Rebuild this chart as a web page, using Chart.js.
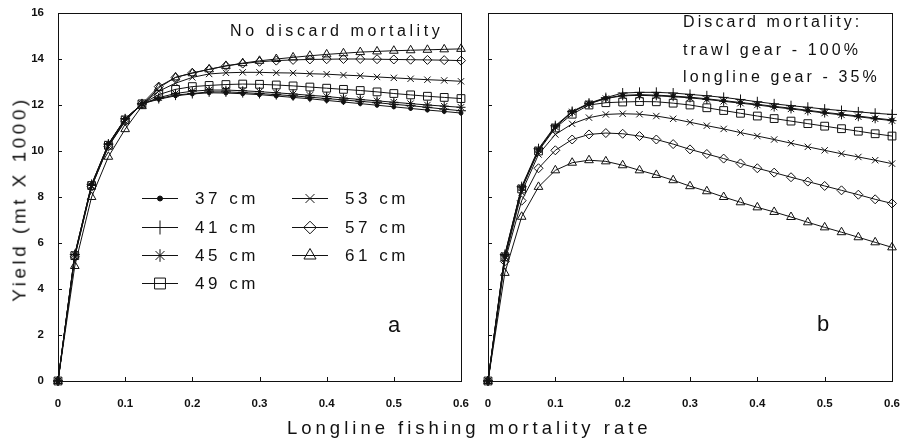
<!DOCTYPE html>
<html>
<head>
<meta charset="utf-8">
<script src="https://cdn.jsdelivr.net/npm/chart.js@4/dist/chart.umd.min.js"></script>
<style>
  body { margin: 0; background: #fff; width: 905px; height: 439px; position: relative; overflow: hidden;
         font-family: "Liberation Sans", Arial, sans-serif; color: #111; }
  .box { position: absolute; top: 0; height: 439px; }
  #left { left: 0; width: 470px; }
  #right { left: 470px; width: 435px; }
  .txt { position: absolute; white-space: nowrap; }
</style>
</head>
<body>
<div class="box" id="left"><canvas id="chartA"></canvas></div>
<div class="box" id="right"><canvas id="chartB"></canvas></div>

<div class="txt" style="left:18.5px; top:198.5px; font-size:19px; line-height:19px; letter-spacing:3.5px; transform:translate(-50%,-50%) rotate(-90deg);">Yield (mt X 1000)</div>
<div class="txt" style="left:287px; top:419px; font-size:18.5px; line-height:18.5px; letter-spacing:4px;">Longline fishing mortality rate</div>
<div class="txt" style="left:230px; top:23px; font-size:16px; line-height:16px; letter-spacing:3.6px;">No discard mortality</div>
<div class="txt" style="left:683px; top:13.5px; font-size:16px; line-height:16px; letter-spacing:3.1px;">Discard mortality:</div>
<div class="txt" style="left:683px; top:41.5px; font-size:16px; line-height:16px; letter-spacing:3.1px;">trawl gear - 100%</div>
<div class="txt" style="left:683px; top:69px; font-size:16px; line-height:16px; letter-spacing:3.1px;">longline gear - 35%</div>
<div class="txt" style="left:388px; top:314px; font-size:22px; line-height:22px;">a</div>
<div class="txt" style="left:817px; top:313px; font-size:22px; line-height:22px;">b</div>

<script>
// longline fishing mortality rate (x)
const xRate = [0, 0.025, 0.05, 0.075, 0.1, 0.125, 0.15, 0.175, 0.2, 0.225, 0.25, 0.275, 0.3,
  0.325, 0.35, 0.375, 0.4, 0.425, 0.45, 0.475, 0.5, 0.525, 0.55, 0.575, 0.6];

const sizeLabels = ["37 cm", "41 cm", "45 cm", "49 cm", "53 cm", "57 cm", "61 cm"];

// panel a : no discard mortality
const a37 = [0, 5.5, 8.55, 10.3, 11.4, 12.05, 12.25, 12.4, 12.48, 12.53, 12.52, 12.49, 12.45, 12.39, 12.33, 12.27, 12.2, 12.13, 12.06, 11.99, 11.92, 11.85, 11.78, 11.72, 11.65];
const a41 = [0, 5.5, 8.55, 10.3, 11.4, 12.05, 12.28, 12.43, 12.5, 12.57, 12.57, 12.54, 12.5, 12.45, 12.4, 12.34, 12.28, 12.22, 12.16, 12.1, 12.03, 11.97, 11.9, 11.82, 11.75];
const a45 = [0, 5.5, 8.5, 10.3, 11.4, 12.05, 12.32, 12.5, 12.6, 12.65, 12.65, 12.62, 12.58, 12.53, 12.48, 12.42, 12.37, 12.3, 12.24, 12.18, 12.12, 12.06, 12.0, 11.95, 11.9];
const a49 = [0, 5.45, 8.5, 10.25, 11.35, 12.05, 12.45, 12.68, 12.8, 12.85, 12.89, 12.91, 12.9, 12.87, 12.83, 12.78, 12.73, 12.68, 12.63, 12.57, 12.5, 12.44, 12.38, 12.33, 12.28];
const a53 = [0, 5.4, 8.45, 10.2, 11.3, 12.05, 12.6, 12.95, 13.2, 13.35, 13.4, 13.42, 13.42, 13.4, 13.39, 13.36, 13.34, 13.3, 13.27, 13.22, 13.18, 13.14, 13.1, 13.07, 13.03];
const a57 = [0, 5.4, 8.45, 10.2, 11.3, 12.05, 12.8, 13.2, 13.4, 13.55, 13.7, 13.8, 13.88, 13.93, 13.96, 13.98, 13.99, 14.0, 14.0, 13.99, 13.98, 13.97, 13.96, 13.95, 13.93];
const a61 = [0, 5.0, 8.0, 9.75, 10.95, 11.95, 12.75, 13.2, 13.38, 13.55, 13.7, 13.82, 13.92, 14.0, 14.07, 14.14, 14.2, 14.25, 14.3, 14.33, 14.36, 14.38, 14.4, 14.42, 14.44];

// panel b : discard mortality trawl 100%, longline 35%
const b37 = [0, 5.45, 8.4, 10.05, 11.05, 11.7, 12.06, 12.3, 12.42, 12.45, 12.43, 12.39, 12.34, 12.27, 12.19, 12.11, 12.03, 11.94, 11.86, 11.77, 11.68, 11.6, 11.52, 11.43, 11.35];
const b41 = [0, 5.5, 8.45, 10.1, 11.1, 11.72, 12.08, 12.32, 12.52, 12.55, 12.55, 12.52, 12.46, 12.4, 12.33, 12.24, 12.14, 12.05, 11.97, 11.9, 11.82, 11.76, 11.7, 11.64, 11.59];
const b45 = [0, 5.45, 8.4, 10.05, 11.05, 11.7, 12.05, 12.28, 12.4, 12.42, 12.4, 12.36, 12.31, 12.24, 12.16, 12.08, 12.0, 11.91, 11.83, 11.74, 11.65, 11.57, 11.49, 11.4, 11.32];
const b49 = [0, 5.4, 8.35, 10.0, 11.0, 11.6, 12.0, 12.1, 12.13, 12.15, 12.14, 12.08, 12.0, 11.88, 11.76, 11.64, 11.52, 11.41, 11.3, 11.19, 11.08, 10.97, 10.86, 10.75, 10.65];
const b53 = [0, 5.3, 8.2, 9.85, 10.72, 11.18, 11.45, 11.59, 11.62, 11.6, 11.52, 11.4, 11.25, 11.1, 10.96, 10.8, 10.65, 10.5, 10.34, 10.18, 10.03, 9.88, 9.74, 9.6, 9.45];
const b57 = [0, 5.2, 7.84, 9.25, 10.03, 10.5, 10.72, 10.78, 10.75, 10.65, 10.5, 10.3, 10.07, 9.87, 9.67, 9.46, 9.25, 9.06, 8.86, 8.67, 8.48, 8.29, 8.1, 7.9, 7.72];
const b61 = [0, 4.7, 7.14, 8.44, 9.16, 9.49, 9.6, 9.55, 9.38, 9.16, 8.96, 8.73, 8.47, 8.25, 8.0, 7.77, 7.55, 7.35, 7.13, 6.9, 6.68, 6.47, 6.25, 6.03, 5.81];

const ink = "#111";
const none = "rgba(0,0,0,0)";
// marker style for each size limit
const markers = [
  { pointStyle: "circle", pointRadius: 2, pointBackgroundColor: ink },
  { pointStyle: "cross", pointRadius: 5, pointBackgroundColor: none },
  { pointStyle: "star", pointRadius: 4.5, pointBackgroundColor: none },
  { pointStyle: "rect", pointRadius: 5.5, pointBackgroundColor: none },
  { pointStyle: "crossRot", pointRadius: 4.5, pointBackgroundColor: none },
  { pointStyle: "rectRot", pointRadius: 4.5, pointBackgroundColor: none },
  { pointStyle: "triangle", pointRadius: 5, pointBackgroundColor: none },
];

const makeSets = (series) => series.map((vals, i) => ({
  label: sizeLabels[i],
  data: xRate.map((x, k) => ({ x: x, y: vals[k] })),
  borderColor: ink,
  borderWidth: 1,
  pointBorderColor: ink,
  pointBorderWidth: 1,
  tension: 0,
  clip: false,
  ...markers[i],
}));

// frame and inward ticks
const framePlugin = {
  id: "frame",
  afterDraw(chart) {
    const { ctx, chartArea: a, scales } = chart;
    ctx.save();
    ctx.strokeStyle = ink;
    ctx.lineWidth = 1;
    ctx.strokeRect(Math.round(a.left) + 0.5, Math.round(a.top) + 0.5, Math.round(a.width), Math.round(a.height));
    ctx.beginPath();
    scales.x.ticks.forEach((t) => {
      const px = Math.round(scales.x.getPixelForValue(t.value)) + 0.5;
      ctx.moveTo(px, a.bottom);
      ctx.lineTo(px, a.bottom - 4);
    });
    scales.y.ticks.forEach((t) => {
      const py = Math.round(scales.y.getPixelForValue(t.value)) + 0.5;
      ctx.moveTo(a.left, py);
      ctx.lineTo(a.left + 4, py);
    });
    ctx.stroke();
    ctx.restore();
  },
};

// legend drawn inside panel a
const legendSpots = [
  [142, 198], [142, 227], [142, 255], [142, 283],
  [292, 198], [292, 227], [292, 255],
];
const legendPlugin = {
  id: "sizeLegend",
  afterDraw(chart) {
    const ctx = chart.ctx;
    ctx.save();
    chart.data.datasets.forEach((ds, i) => {
      const [x0, y0] = legendSpots[i];
      ctx.strokeStyle = ink;
      ctx.lineWidth = 1;
      ctx.beginPath();
      ctx.moveTo(x0, y0 + 0.5);
      ctx.lineTo(x0 + 36, y0 + 0.5);
      ctx.stroke();
      ctx.fillStyle = ds.pointBackgroundColor;
      Chart.helpers.drawPoint(ctx, {
        pointStyle: ds.pointStyle,
        radius: ds.pointStyle === "circle" ? 2.5 : ds.pointRadius * 1.4,
        rotation: 0,
        borderWidth: 1,
      }, x0 + 18, y0 + 0.5);
      ctx.fillStyle = ink;
      ctx.font = '17px "Liberation Sans", Arial, sans-serif';
      ctx.letterSpacing = "3.5px";
      ctx.textBaseline = "middle";
      ctx.textAlign = "left";
      ctx.fillText(ds.label, x0 + 53, y0 + 1);
    });
    ctx.restore();
  },
};

const tickFont = { family: '"Liberation Sans", Arial, sans-serif', size: 11.5, weight: "bold" };

const makeOptions = (showY, pad) => ({
  responsive: true,
  maintainAspectRatio: false,
  animation: false,
  layout: { padding: pad },
  plugins: { legend: { display: false }, tooltip: { enabled: false } },
  scales: {
    x: {
      type: "linear",
      min: 0,
      max: 0.6,
      ticks: {
        stepSize: 0.1,
        color: ink,
        font: tickFont,
        padding: 8,
        maxRotation: 0,
        callback: (v) => (v === 0 ? "0" : v.toFixed(1)),
      },
      grid: { display: false },
      border: { display: false },
      afterFit: (s) => { s.height = 58; s.paddingLeft = 0; s.paddingRight = 0; },
    },
    y: {
      min: 0,
      max: 16,
      ticks: { stepSize: 2, color: ink, font: tickFont, padding: 6, display: showY },
      grid: { display: false },
      border: { display: false },
      afterFit: (s) => { s.width = showY ? 58 : 18; s.paddingTop = 0; s.paddingBottom = 0; },
    },
  },
});

new Chart(document.getElementById("chartA"), {
  type: "line",
  data: { datasets: makeSets([a37, a41, a45, a49, a53, a57, a61]) },
  options: makeOptions(true, { top: 13, right: 9, left: 0, bottom: 0 }),
  plugins: [framePlugin, legendPlugin],
});

new Chart(document.getElementById("chartB"), {
  type: "line",
  data: { datasets: makeSets([b37, b41, b45, b49, b53, b57, b61]) },
  options: makeOptions(false, { top: 13, right: 13, left: 0, bottom: 0 }),
  plugins: [framePlugin],
});
</script>
</body>
</html>
